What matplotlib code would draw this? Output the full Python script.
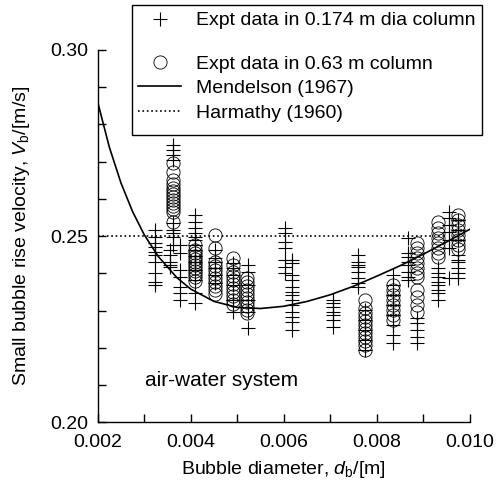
import matplotlib
matplotlib.use('Agg')
import matplotlib.pyplot as plt
from matplotlib.ticker import FixedLocator
from matplotlib.offsetbox import DrawingArea

plt.rcParams['font.family'] = ['Liberation Sans', 'DejaVu Sans']
plt.rcParams['mathtext.fontset'] = 'custom'
plt.rcParams['mathtext.rm'] = 'Liberation Sans'
plt.rcParams['mathtext.it'] = 'Liberation Sans:italic'

# --- data ---
# crosses: 0.174 m dia column (bubble diameter, list of rise velocities)
plus_d = [0.00323, 0.00361, 0.00355, 0.00377, 0.00410, 0.00453, 0.00490,
          0.00522, 0.00603, 0.00617, 0.00706, 0.00760, 0.00775, 0.00835,
          0.00867, 0.00886, 0.00932, 0.00955, 0.00975]
plus_v = [
    [0.2517, 0.2498, 0.2482, 0.2471, 0.2458, 0.2450, 0.2431, 0.2401, 0.2377, 0.2369],
    [0.2745, 0.2732, 0.2718, 0.2705, 0.2535, 0.2517, 0.2509, 0.2498, 0.2477],
    [0.2463, 0.2450, 0.2431, 0.2423, 0.2418],
    [0.2477, 0.2455, 0.2409, 0.2391, 0.2364, 0.2348, 0.2329],
    [0.2557, 0.2538, 0.2522, 0.2509, 0.2498, 0.2490, 0.2477, 0.2463, 0.2447,
     0.2431, 0.2409, 0.2383, 0.2348, 0.2321],
    [0.2463, 0.2442, 0.2431, 0.2415, 0.2396, 0.2375],
    [0.2428, 0.2415, 0.2396, 0.2369, 0.2329, 0.2297],
    [0.2423, 0.2404, 0.2369, 0.2329, 0.2297, 0.2254],
    [0.2522, 0.2509, 0.2485, 0.2468, 0.2436, 0.2418, 0.2401],
    [0.2436, 0.2428, 0.2396, 0.2383, 0.2364, 0.2350, 0.2342, 0.2329, 0.2315,
     0.2297, 0.2283, 0.2270, 0.2248],
    [0.2329, 0.2321, 0.2310, 0.2297, 0.2289, 0.2275, 0.2256],
    [0.2450, 0.2431, 0.2423, 0.2418, 0.2404, 0.2388, 0.2374, 0.2364],
    [0.2302, 0.2275, 0.2248, 0.2221, 0.2195],
    [0.2396, 0.2369, 0.2342, 0.2315, 0.2289, 0.2262, 0.2235, 0.2213],
    [0.2495, 0.2455, 0.2444, 0.2431, 0.2423, 0.2404, 0.2391, 0.2383],
    [0.2281, 0.2267, 0.2248, 0.2230, 0.2213],
    [0.2415, 0.2401, 0.2391, 0.2377, 0.2369, 0.2356, 0.2348, 0.2329],
    [0.2565, 0.2549, 0.2530, 0.2511, 0.2490, 0.2468, 0.2388],
    [0.2544, 0.2517, 0.2490, 0.2450, 0.2436, 0.2431, 0.2415, 0.2401, 0.2388],
]

# circles: 0.63 m column
circ_d = [0.00361, 0.00410, 0.00453, 0.00490, 0.00521, 0.00775, 0.00835,
          0.00886, 0.00932, 0.00975]
circ_v = [
    [0.2697, 0.2672, 0.2651, 0.2640, 0.2630, 0.2621, 0.2613, 0.2605, 0.2597,
     0.2589, 0.2581, 0.2573, 0.2565, 0.2538],
    [0.2477, 0.2463, 0.2455, 0.2447, 0.2439, 0.2431, 0.2423, 0.2415, 0.2407,
     0.2399, 0.2391, 0.2380],
    [0.2503, 0.2468, 0.2431, 0.2420, 0.2409, 0.2399, 0.2388, 0.2377, 0.2366,
     0.2356, 0.2345],
    [0.2442, 0.2423, 0.2404, 0.2393, 0.2383, 0.2372, 0.2361, 0.2350, 0.2340,
     0.2329, 0.2318],
    [0.2388, 0.2377, 0.2366, 0.2356, 0.2345, 0.2334, 0.2323, 0.2313, 0.2302, 0.2294],
    [0.2329, 0.2307, 0.2294, 0.2283, 0.2272, 0.2262, 0.2251, 0.2240, 0.2230,
     0.2219, 0.2208, 0.2195],
    [0.2369, 0.2356, 0.2342, 0.2329, 0.2315, 0.2302, 0.2289, 0.2275],
    [0.2482, 0.2468, 0.2455, 0.2442, 0.2428, 0.2415, 0.2401, 0.2391, 0.2356,
     0.2337, 0.2315, 0.2297],
    [0.2538, 0.2522, 0.2509, 0.2495, 0.2482, 0.2468, 0.2455, 0.2444],
    [0.2557, 0.2544, 0.2530, 0.2517, 0.2503, 0.2490, 0.2477, 0.2466],
]

# Mendelson (1967) curve
mend_d = [0.00200, 0.00225, 0.00250, 0.00275, 0.00300, 0.00330, 0.00370,
          0.00400, 0.00450, 0.00500, 0.00550, 0.00600, 0.00650, 0.00700,
          0.00750, 0.00800, 0.00850, 0.00900, 0.00950, 0.01000]
mend_v = [0.2860, 0.2739, 0.2643, 0.2566, 0.2504, 0.2446, 0.2389,
          0.2358, 0.2325, 0.2309, 0.2306, 0.2312, 0.2325, 0.2343,
          0.2366, 0.2393, 0.2421, 0.2452, 0.2485, 0.2519]

# Harmathy (1960)
harm_d = [0.002, 0.0095]
harm_v = [0.25, 0.25]

xticks = [0.002, 0.004, 0.006, 0.008, 0.010]
xtick_labels = ['0.002', '0.004', '0.006', '0.008', '0.010']
xminor = [0.003, 0.005, 0.007, 0.009]
yticks = [0.20, 0.25, 0.30]
ytick_labels = ['0.20', '0.25', '0.30']
yminor = [0.21, 0.22, 0.23, 0.24, 0.26, 0.27, 0.28, 0.29]

px = [d for d, vs in zip(plus_d, plus_v) for _ in vs]
py = [v for vs in plus_v for v in vs]
cx = [d for d, vs in zip(circ_d, circ_v) for _ in vs]
cy = [v for vs in circ_v for v in vs]

fig = plt.figure(figsize=(4.97, 4.84), dpi=100)
ax = fig.add_axes([0.1966, 0.1271, 0.7491, 0.7696])

h1, = ax.plot(px, py, ls='none', marker='+', ms=9.5, mew=0.8, color='black',
              label='Expt data in 0.174 m dia column')
h2, = ax.plot(cx, cy, ls='none', marker='o', ms=9.5, mew=0.6, mfc='none',
              color='black', label='Expt data in 0.63 m column')
h3, = ax.plot(mend_d, mend_v, '-', color='black', lw=1.2, label='Mendelson (1967)')
h4, = ax.plot(harm_d, harm_v, ':', color='black', lw=1.2, label='Harmathy (1960)')

ax.set_xlim(0.002, 0.010)
ax.set_ylim(0.20, 0.30)
ax.spines['top'].set_visible(False)
ax.spines['right'].set_visible(False)
ax.spines['left'].set_linewidth(1.0)
ax.spines['bottom'].set_linewidth(1.0)

ax.xaxis.set_major_locator(FixedLocator(xticks))
ax.xaxis.set_minor_locator(FixedLocator(xminor))
ax.set_xticklabels(xtick_labels)
ax.yaxis.set_major_locator(FixedLocator(yticks))
ax.yaxis.set_minor_locator(FixedLocator(yminor))
ax.set_yticklabels(ytick_labels)
ax.tick_params(which='both', direction='in', length=5.5, width=1.0, labelsize=14)
ax.tick_params(axis='x', pad=8)
ax.tick_params(axis='y', pad=7)

ax.set_xlabel(r'Bubble diameter, $d_\mathrm{b}$/[m]', fontsize=14, labelpad=6)
ax.set_ylabel(r'Small bubble rise velocity, $V_\mathrm{b}$/[m/s]', fontsize=14, labelpad=13)

ax.text(0.00302, 0.2114, 'air-water system', fontsize=15, ha='left', va='center')

leg = ax.legend(handles=[h1, h2, h3, h4], loc='upper right',
                bbox_to_anchor=(482 / 497, 1 - 5 / 484), bbox_transform=fig.transFigure,
                fontsize=14, numpoints=1, frameon=True, fancybox=False,
                edgecolor='black', framealpha=1, borderaxespad=0, borderpad=0.35,
                handlelength=2.2, handletextpad=0.75, labelspacing=0.35)
leg.get_frame().set_linewidth(1.0)
# extra gap after the first entry and a bit more room at the bottom, as in the original
col = leg._legend_handle_box.get_children()[0]
col._children.insert(1, DrawingArea(1, 8.8))
col._children.append(DrawingArea(1, 0))

fig.savefig('out.png', dpi=100)
